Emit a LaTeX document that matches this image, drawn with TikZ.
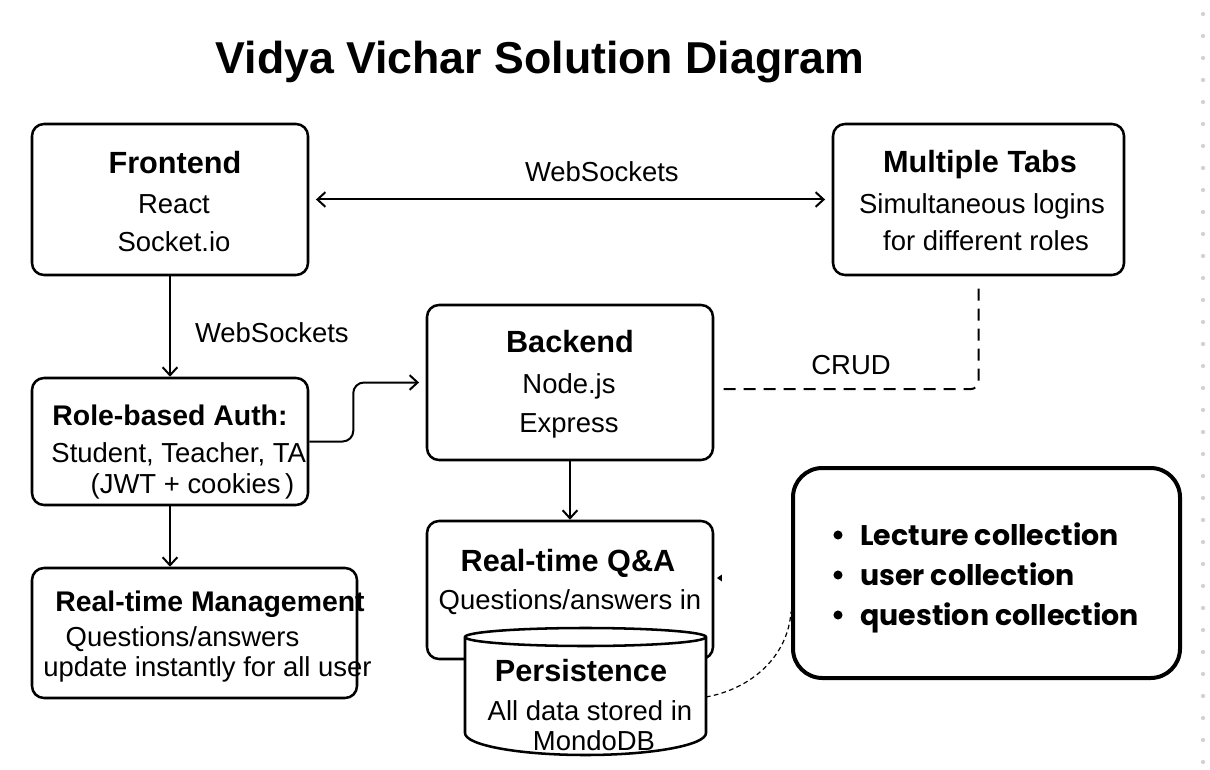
\documentclass[tikz,border=0pt]{standalone}
\usepackage{fontspec}
\setmainfont{Liberation Sans}
\newfontfamily\collfont{Poppins}
\usetikzlibrary{arrows.meta,calc}
\newdimen\pxu \pxu=0.75pt
\tikzset{
  >={Straight Barb[length=6pt,width=11pt]},
  box/.style={draw,line width=1.9pt,rounded corners=9pt,inner sep=0pt},
  conn/.style={line width=1.5pt},
  txt/.style={inner sep=0pt,text height=14.8pt,text depth=0pt,font=\fontsize{20.6}{24}\selectfont},
  hd/.style={inner sep=0pt,text height=16.6pt,text depth=0pt,font=\fontsize{23}{27}\selectfont\bfseries},
  hds/.style={hd,text height=15.4pt,font=\fontsize{21.3}{25}\selectfont\bfseries},
}

\begin{document}
\begin{tikzpicture}[x=0.75pt,y=-0.75pt]
\useasboundingbox (0,0) rectangle (1210,770);
\fill[white] (0,0) rectangle (1210,770);

% dots along the right edge
\foreach \k in {0,...,34}
  \fill[gray!35] (1203,{14+22*\k}) circle (1.6pt);

% title
\node[inner sep=0pt,text height=24pt,text depth=0pt,font=\fontsize{33.5}{40}\selectfont\bfseries] (title) at (540,57.5) {Vidya Vichar Solution Diagram};

% boxes
\node[box,minimum width=276\pxu,minimum height=151\pxu] (front) at (170,199.5) {};
\node[box,minimum width=291\pxu,minimum height=151\pxu] (tabs) at (978.5,199.5) {};
\node[box,minimum width=276\pxu,minimum height=127\pxu] (auth) at (170,441.5) {};
\node[box,minimum width=286\pxu,minimum height=155\pxu] (backend) at (570,382.5) {};
\node[box,minimum width=286\pxu,minimum height=138\pxu] (qa) at (570,590) {};
\node[box,minimum width=325\pxu,minimum height=130\pxu] (mgmt) at (194.5,633) {};
\node[draw,line width=3pt,rounded corners=22pt,minimum width=387\pxu,minimum height=210\pxu] (coll) at (986.5,573) {};

% texts
\node[hd] (frontH) at (175,162) {Frontend};
\node[txt] (frontA) at (174,203.5) {React};
\node[txt] (frontB) at (174,242) {Socket.io};

\node[hd] (tabsH) at (980,161) {Multiple Tabs};
\node[txt] (tabsA) at (982,204) {Simultaneous logins};
\node[txt] (tabsB) at (986,241) {for different roles};

\node[hd] (backH) at (570,341) {Backend};
\node[txt] (backA) at (569,384) {Node.js};
\node[txt] (backB) at (569,423) {Express};

\node[hds] (authH) at (170,415) {Role-based Auth:};
\node[txt] (authA) at (178.7,452.5) {Student, Teacher, TA};
\node[txt] (authB) at (192.5,483.5) {(JWT + cookies\,)};

\node[hds] (mgmtH) at (210,601) {Real-time Management};
\node[txt] (mgmtA) at (182.5,637) {Questions/answers};
\node[txt] (mgmtB) at (207.5,667) {update instantly for all user};

\node[hd] (qaH) at (568,560) {Real-time Q\&A};
\node[txt] (qaA) at (570,600) {Questions/answers in};

% persistence cylinder
\draw[line width=1.9pt,fill=white] (465,637) -- (465,733)
  arc[start angle=180,end angle=360,x radius=120.5\pxu,y radius=22\pxu]
  -- (706,637)
  arc[start angle=0,end angle=180,x radius=120.5\pxu,y radius=9\pxu] -- cycle;
\draw[line width=1.9pt] (465,637) arc[start angle=180,end angle=360,x radius=120.5\pxu,y radius=9\pxu];
\node[hd] (dbH) at (581,670) {Persistence};
\node[txt] (dbA) at (590,711) {All data stored in};
\node[txt] (dbB) at (594,741) {MondoDB};
\coordinate (dbR) at (706,697);

% collections
\foreach \name/\yy in {Lecture collection/535,user collection/575,question collection/615}{
  \fill (838,\yy) circle (3.4pt);
  \node[anchor=west,inner sep=0pt,text height=15pt,text depth=0pt,font=\fontsize{21.3}{25}\collfont\bfseries] at (860,\yy) {\name};
}

% connectors
\draw[conn,<->,shorten <=5pt,shorten >=5pt] (front.east) -- node[pos=0.56,above=13pt,txt] (wsTop) {WebSockets} (tabs.west);
\draw[conn,->] (front.south) -- node[pos=0.56,right=18pt,txt] (wsDown) {WebSockets} (auth.north);
\draw[conn,->] (auth.south) -- (auth.south |- mgmt.north);
\draw[conn,->] (backend.south) -- (qa.north);
\draw[conn,->,rounded corners=8pt,shorten >=5pt] (auth.east) -- ++(44,0) |- (backend.west);
\draw[conn,dash pattern=on 9pt off 6pt,rounded corners=6pt]
  ([xshift=7pt,yshift=-5pt]backend.east) -| node[pos=0.25,above=10pt,txt] (crud) {CRUD} ([yshift=-8pt]tabs.south);
\draw[line width=0.9pt,dash pattern=on 3.5pt off 2.5pt]
  (dbR) .. controls +(45,-8) and +(-3,45) .. ([yshift=-29pt]coll.west);
\fill ([xshift=2pt,yshift=9pt]qa.east) -- ++(5,-3.5) -- ++(0,7) -- cycle;
\end{tikzpicture}
\end{document}
